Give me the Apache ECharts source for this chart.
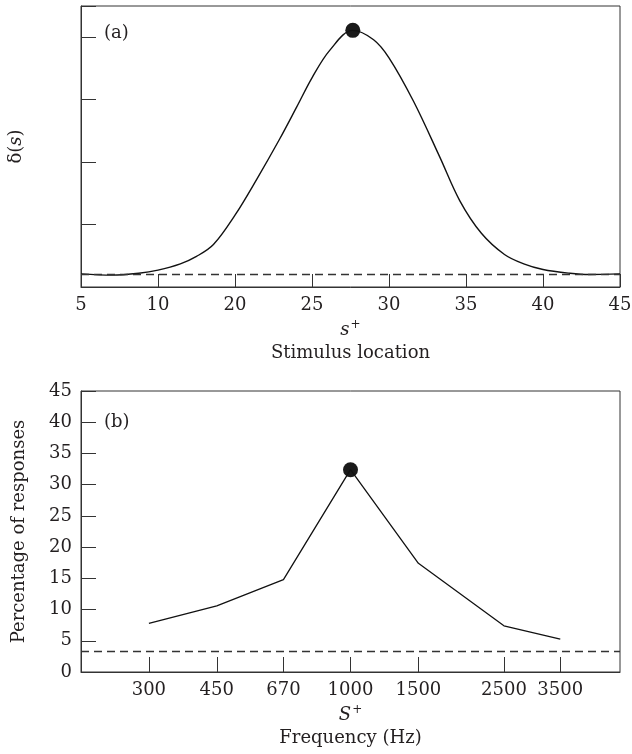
<!DOCTYPE html>
<html><head><meta charset="utf-8">
<script src="https://cdn.jsdelivr.net/npm/echarts@6/dist/echarts.min.js"></script>
<style>html,body{margin:0;padding:0;background:#fff}#c{width:632px;height:754px}</style>
</head><body><div id="c"></div>
<script>
// ---- Panel (a): generalization gradient on a stimulus-location axis ----
const tickLabelsA = ['5', '10', '20', '25', '30', '35', '40', '45'];
// positions along the axis (0 = "5" tick, 7 = "45" tick)
const curvePos = [0, 0.4, 0.75, 1.0, 1.29, 1.5, 1.72, 2.0, 2.28, 2.58, 2.8, 3.0, 3.23, 3.53, 3.8, 4.0, 4.32, 4.66, 4.92, 5.2, 5.5, 5.75, 6.0, 6.35, 6.6, 7.0];
const curveVal = [0.21, 0.19, 0.22, 0.27, 0.37, 0.49, 0.68, 1.15, 1.72, 2.37, 2.88, 3.35, 3.79, 4.11, 3.96, 3.67, 2.97, 2.08, 1.38, 0.86, 0.52, 0.37, 0.28, 0.22, 0.2, 0.21];
const peakA = [3.53, 4.11];
const baselineA = 0.21;

// ---- Panel (b): percentage of responses vs frequency ----
const freqs = [300, 450, 670, 1000, 1500, 2500, 3500];
const pcts = [7.8, 10.6, 14.8, 32.4, 17.4, 7.4, 5.25];
const peakB = [1000, 32.4];
const baselineB = 3.35;

const FONT = 'DejaVu Serif';
const TXT = '#231f20';
const AX = '#333';

const chart = echarts.init(document.getElementById('c'));
const makeRich = () => ({
  it: {fontFamily: FONT, fontStyle: 'italic', fontSize: 18, color: TXT, lineHeight: 23},
  sup: {fontFamily: FONT, fontSize: 12, color: TXT, verticalAlign: 'top', lineHeight: 23, padding: [0, 0, 8, 1]},
  n: {fontFamily: FONT, fontSize: 18, color: TXT, lineHeight: 23}
});
const labelStyle = {fontFamily: FONT, fontSize: 18, color: TXT};
const tickOnly = {
  axisLine: {show: false}, axisLabel: {show: false}, splitLine: {show: false}, name: ''
};

chart.setOption({
  animation: false,
  grid: [
    {left: 81, top: 6, width: 539, height: 281, show: true, borderColor: AX, borderWidth: 1, outerBoundsMode: 'none', containLabel: false},
    {left: 81, top: 391, width: 539, height: 281, show: true, borderColor: AX, borderWidth: 1, outerBoundsMode: 'none', containLabel: false}
  ],
  title: [
    {text: '(a)', left: 104, top: 24, padding: 0, textStyle: {fontFamily: FONT, fontSize: 18, fontWeight: 'normal', color: TXT}},
    {text: '(b)', left: 104, top: 413, padding: 0, textStyle: {fontFamily: FONT, fontSize: 18, fontWeight: 'normal', color: TXT}}
  ],
  xAxis: [
    {
      gridIndex: 0, type: 'value', min: 0, max: 7, interval: 1,
      axisLine: {onZero: false, lineStyle: {color: AX}},
      axisTick: {show: true, inside: true, length: 13, lineStyle: {color: AX, width: 1}},
      axisLabel: Object.assign({margin: 9, formatter: v => tickLabelsA[v]}, labelStyle),
      splitLine: {show: false},
      name: '{it|s}{sup|+}\n{n|Stimulus location}',
      nameLocation: 'middle', nameGap: 32,
      nameTextStyle: {rich: makeRich()}
    },
    {
      gridIndex: 1, type: 'log', logBase: 10, min: 200, max: 5000,
      axisLine: {onZero: false, lineStyle: {color: AX}},
      axisTick: {show: true, inside: true, length: 15, lineStyle: {color: AX, width: 1}, customValues: freqs},
      axisLabel: Object.assign({margin: 9, customValues: freqs, formatter: v => String(v)}, labelStyle),
      splitLine: {show: false},
      minorTick: {show: false},
      name: '{it|S}{sup|+}\n{n|Frequency (Hz)}',
      nameLocation: 'middle', nameGap: 32,
      nameTextStyle: {rich: makeRich()}
    },
    Object.assign({
      gridIndex: 0, type: 'value', min: 0, max: 7, interval: 1, position: 'bottom',
      axisTick: {show: true, inside: true, length: 13, lineStyle: {color: AX, width: 1}}
    }, tickOnly),
    Object.assign({
      gridIndex: 1, type: 'log', logBase: 10, min: 200, max: 5000, position: 'bottom',
      axisTick: {show: true, inside: true, length: 15, lineStyle: {color: AX, width: 1}, customValues: freqs},
      minorTick: {show: false}
    }, tickOnly)
  ],
  yAxis: [
    {
      gridIndex: 0, type: 'value', min: 0, max: 4.5, interval: 1,
      axisLine: {show: true, lineStyle: {color: AX}},
      axisTick: {show: true, inside: true, length: 15, lineStyle: {color: AX}},
      axisLabel: {show: false},
      splitLine: {show: false},
      name: '{n|δ(}{it|s}{n|)}',
      nameLocation: 'middle', nameGap: 53,
      nameTextStyle: {fontFamily: FONT, fontSize: 18, color: TXT, rich: makeRich()}
    },
    {
      gridIndex: 1, type: 'value', min: 0, max: 45, interval: 5,
      axisLine: {show: true, lineStyle: {color: AX}},
      axisTick: {show: true, inside: true, length: 15, lineStyle: {color: AX}},
      axisLabel: Object.assign({margin: 9}, labelStyle),
      splitLine: {show: false},
      name: 'Percentage of responses',
      nameLocation: 'middle', nameGap: 53,
      nameTextStyle: {fontFamily: FONT, fontSize: 18, color: TXT}
    }
  ],
  series: [
    {
      type: 'line', xAxisIndex: 0, yAxisIndex: 0, smooth: 0.35, showSymbol: false,
      data: curvePos.map((p, i) => [p, curveVal[i]]),
      lineStyle: {color: '#111', width: 1.4},
      markLine: {silent: true, symbol: 'none', label: {show: false},
        lineStyle: {color: AX, type: [8, 5], width: 1.3},
        data: [{yAxis: baselineA}]}
    },
    {
      type: 'scatter', xAxisIndex: 0, yAxisIndex: 0, symbolSize: 15,
      itemStyle: {color: '#1a1a1a', opacity: 1}, data: [peakA]
    },
    {
      type: 'line', xAxisIndex: 1, yAxisIndex: 1, showSymbol: false,
      data: freqs.map((f, i) => [f, pcts[i]]),
      lineStyle: {color: '#111', width: 1.3},
      markLine: {silent: true, symbol: 'none', label: {show: false},
        lineStyle: {color: AX, type: [8, 5], width: 1.3},
        data: [{yAxis: baselineB}]}
    },
    {
      type: 'scatter', xAxisIndex: 1, yAxisIndex: 1, symbolSize: 15,
      itemStyle: {color: '#1a1a1a', opacity: 1}, data: [peakB]
    }
  ]
});
</script>
</body></html>
